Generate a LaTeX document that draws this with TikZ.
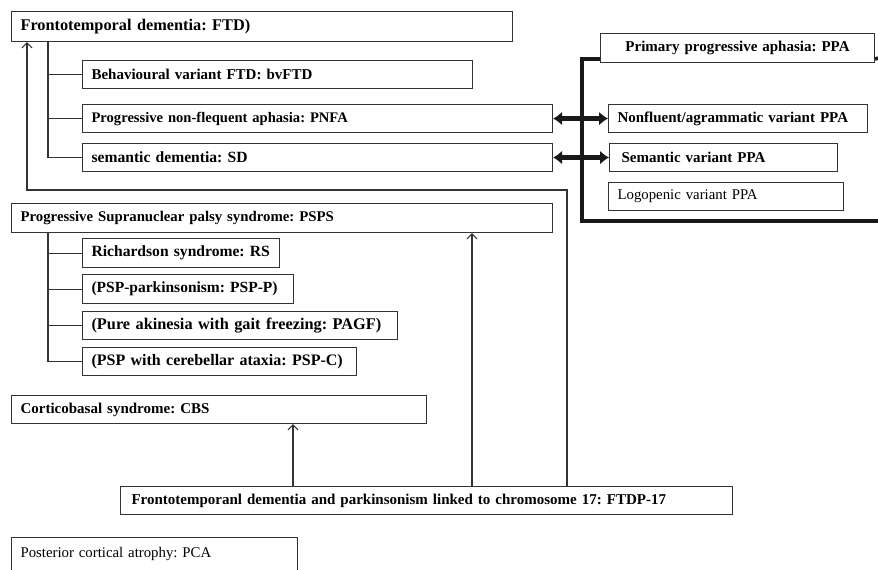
\documentclass[tikz,border=0pt]{standalone}
\usepackage{fontspec}
\setmainfont{Liberation Serif}
\frenchspacing
\usetikzlibrary{arrows.meta}
\newcommand{\bsize}[1]{\bfseries\fontsize{#1}{17}\selectfont}
\begin{document}
\begin{tikzpicture}[x=1pt, y=-1pt]
			\tikzstyle{Box} = [draw=black!80, line width=1.1pt, anchor=north west, inner xsep=9pt, inner ysep=0pt, align=left, font=\bsize{15}]
			\tikzstyle{Plain} = [Box, font=\fontsize{14.8}{16}\selectfont]
			\tikzstyle{Link} = [draw=black!80, line width=1.1pt]
			\tikzstyle{Up} = [Link, -{Straight Barb[length=5pt, width=10pt]}]
			\tikzstyle{Frame} = [draw=black!90, line width=3.6pt]
			\tikzstyle{Dbl} = [draw=black!90, line width=4.5pt, {Latex[length=9pt, width=14pt]}-{Latex[length=9pt, width=14pt]}]
			\useasboundingbox (0,0) rectangle (878,570);
			\clip (0,0) rectangle (878,570);
			% frontotemporal dementia
			\node (ftd) at (11,11) [Box, text width=483, minimum height=30, font=\bsize{16.3}] {Frontotemporal dementia: FTD)};
			\node (bv) at (82,60) [Box, text width=372, minimum height=28] {Behavioural variant FTD: bvFTD};
			\node (pnfa) at (82,104) [Box, text width=452, minimum height=28, font=\bsize{14.6}] {Progressive non-flequent aphasia: PNFA};
			\node (sd) at (82,143) [Box, text width=452, minimum height=28, font=\bsize{15.6}] {semantic dementia: SD};
			\draw [Link] ([xshift=37]ftd.south west) |- (bv.west);
			\draw [Link] ([xshift=37]ftd.south west) |- (pnfa.west);
			\draw [Link] ([xshift=37]ftd.south west) |- (sd.west);
			% primary progressive aphasia
			\node (ppa) at (600,33) [Box, text width=256, minimum height=29, align=center] {Primary progressive aphasia: PPA};
			\node (nfv) at (608,104) [Box, text width=241, minimum height=28] {Nonfluent/agrammatic variant PPA};
			\node (sv) at (609,143) [Box, inner xsep=12pt, text width=204, minimum height=28] {Semantic variant PPA};
			\node (lv) at (608,182) [Plain, text width=217, minimum height=28] {Logopenic variant PPA};
			\coordinate (fb) at (582,221);
			\coordinate (fe) at (878,221);
			\coordinate (fr) at (878,58);
			\draw [Frame] ([yshift=4]ppa.south west) -| (fb) -- (fe);
			\draw [Frame] ([yshift=4]ppa.south east) -- (fr);
			\draw [Dbl] (pnfa.east) -- (nfv.west);
			\draw [Dbl] (sd.east) -- (sv.west);
			% progressive supranuclear palsy
			\node (psps) at (11,203) [Box, text width=523, minimum height=29, font=\bsize{14.8}] {Progressive Supranuclear palsy syndrome: PSPS};
			\node (rs) at (82,238) [Box, text width=179, minimum height=29, font=\bsize{15.6}] {Richardson syndrome: RS};
			\node (pspp) at (82,274) [Box, text width=193, minimum height=29, font=\bsize{15.5}] {(PSP-parkinsonism: PSP-P)};
			\node (pagf) at (82,311) [Box, text width=297, minimum height=28, font=\bsize{16.3}] {(Pure akinesia with gait freezing: PAGF)};
			\node (pspc) at (82,347) [Box, text width=256, minimum height=28, font=\bsize{16}] {(PSP with cerebellar ataxia: PSP-C)};
			\draw [Link] ([xshift=37]psps.south west) |- (rs.west);
			\draw [Link] ([xshift=37]psps.south west) |- (pspp.west);
			\draw [Link] ([xshift=37]psps.south west) |- (pagf.west);
			\draw [Link] ([xshift=37]psps.south west) |- (pspc.west);
			% corticobasal, FTDP-17, PCA
			\node (cbs) at (11,395) [Box, text width=397, minimum height=28] {Corticobasal syndrome: CBS};
			\node (ftdp) at (120,486) [Box, inner xsep=11pt, text width=590, minimum height=28] {Frontotemporanl dementia and parkinsonism linked to chromosome 17: FTDP-17};
			\node (pca) at (11,537) [Plain, text width=268, minimum height=36] {\raisebox{6pt}{Posterior cortical atrophy: PCA}};
			\coordinate (ret) at (27,190);
			\draw [Up] ([xshift=173]ftdp.north west) -- ([xshift=173]ftdp.north west |- cbs.south);
			\draw [Up] ([xshift=352]ftdp.north west) -- ([xshift=352]ftdp.north west |- psps.south);
			\draw [Up] ([xshift=447]ftdp.north west) |- (ret) -- (ret |- ftd.south);
		\end{tikzpicture}
\end{document}
